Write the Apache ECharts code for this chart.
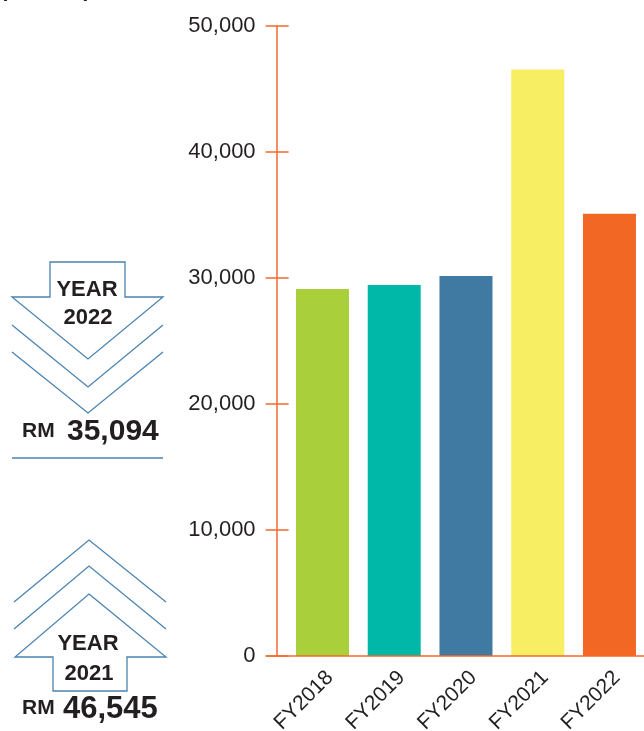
<!DOCTYPE html>
<html>
<head>
<meta charset="utf-8">
<style>html,body{margin:0;padding:0;background:#fff;}#c{width:644px;height:731px;}</style>
<script src="https://cdn.jsdelivr.net/npm/echarts@6/dist/echarts.min.js"></script>
</head>
<body>
<div id="c"></div>
<script>
var categories = ['FY2018', 'FY2019', 'FY2020', 'FY2021', 'FY2022'];
var revenue = [29120, 29440, 30160, 46545, 35094];
var barColors = ['#a9cf3b', '#00b8a7', '#4079a1', '#f7ee63', '#f36724'];
var yTicks = [0, 10000, 20000, 30000, 40000, 50000];

var ORANGE = '#f26a2e';
var BLUE = '#4a83b0';
var INK = '#231f20';
var FONT = '"Liberation Sans", Arial, Helvetica, sans-serif';

var chart = echarts.init(document.getElementById('c'), null, {renderer: 'canvas'});

function fmt(v) { return v === 0 ? '0' : v.toLocaleString('en-US'); }

var option = {
  animation: false,
  backgroundColor: '#ffffff',
  grid: {left: 286.6, top: 26, width: 358.75, bottom: 75, containLabel: false, outerBoundsMode: 'none'},
  xAxis: {
    type: 'category',
    data: categories,
    boundaryGap: true,
    axisLine: {show: false},
    axisTick: {show: false},
    axisLabel: {rotate: 45, fontSize: 21, color: INK, fontFamily: FONT, margin: 11, interval: 0, verticalAlign: 'top'}
  },
  yAxis: [{
    type: 'value',
    min: yTicks[0], max: yTicks[yTicks.length - 1], interval: 10000,
    position: 'left', offset: 10,
    axisLine: {show: true, lineStyle: {color: ORANGE, width: 1.5}},
    axisTick: {show: true, inside: false, length: 11, lineStyle: {color: ORANGE, width: 1.5}},
    axisLabel: {fontSize: 22, color: INK, fontFamily: FONT, margin: 21, formatter: fmt},
    splitLine: {show: false}
  }, {
    type: 'value',
    min: yTicks[0], max: yTicks[yTicks.length - 1], interval: 10000,
    position: 'left', offset: 10,
    axisLine: {show: false},
    axisTick: {show: true, inside: true, length: 12, lineStyle: {color: ORANGE, width: 1.5}},
    axisLabel: {show: false},
    splitLine: {show: false}
  }],
  series: [{
    type: 'bar',
    barWidth: 53,
    data: revenue.map(function (v, i) { return {value: v, itemStyle: {color: barColors[i]}}; })
  }]
};
chart.setOption(option);

// decorative baseline and left info panel
var y0 = chart.convertToPixel({yAxisIndex: 0}, 0);
var tStyle = function (txt, x, y, size, align, vAlign, extra) {
  var s = {text: txt, x: x, y: y, fill: INK, font: 'bold ' + size + 'px ' + FONT, textAlign: align, textVerticalAlign: vAlign};
  if (extra) for (var k in extra) s[k] = extra[k];
  return {type: 'text', style: s, z: 10};
};
var line = function (pts) {
  return {type: 'polyline', shape: {points: pts}, style: {stroke: BLUE, lineWidth: 1.3, fill: null}, z: 10};
};
var graphics = [
  {type: 'line', shape: {x1: 266, y1: y0, x2: 644, y2: y0}, style: {stroke: ORANGE, lineWidth: 1.5}, z: 20},
  tStyle("(RM'000)", 0, 1, 22, 'left', 'bottom'),
  // down arrow 2022
  {type: 'polygon', shape: {points: [[50,262],[125,262],[125,297],[163,297],[88,359],[12,297],[50,297]]}, style: {stroke: BLUE, lineWidth: 1.3, fill: '#fff'}, z: 10},
  line([[12,325],[88,387],[163,325]]),
  line([[12,352],[88,413],[163,352]]),
  tStyle('YEAR', 87, 290, 22, 'center', 'middle'),
  tStyle('2022', 88, 318, 22, 'center', 'middle'),
  tStyle('RM', 22, 442, 21, 'left', 'bottom'),
  tStyle('35,094', 67, 447, 30, 'left', 'bottom'),
  {type: 'line', shape: {x1: 12, y1: 458, x2: 163, y2: 458}, style: {stroke: BLUE, lineWidth: 1.3}, z: 10},
  // up arrow 2021
  line([[14,602],[89,540],[166,602]]),
  line([[14,629],[89,566],[166,629]]),
  {type: 'polygon', shape: {points: [[89,594],[166,657],[127,657],[127,691],[53,691],[53,657],[15,657]]}, style: {stroke: BLUE, lineWidth: 1.3, fill: '#fff'}, z: 10},
  tStyle('YEAR', 88, 644, 22, 'center', 'middle'),
  tStyle('2021', 89, 674, 22, 'center', 'middle'),
  tStyle('RM', 22, 719, 21, 'left', 'bottom'),
  tStyle('46,545', 63, 725, 31, 'left', 'bottom')
];
chart.setOption({graphic: graphics});
</script>
</body>
</html>
